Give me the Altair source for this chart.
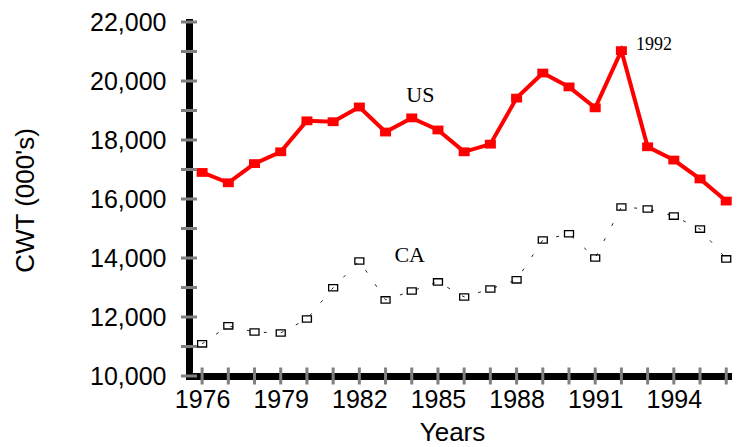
import altair as alt
import pandas as pd

# ---- data ----
years = list(range(1976, 1997))
us = [16900, 16550, 17200, 17600, 18650, 18620, 19120, 18270, 18750, 18340,
      17600, 17860, 19420, 20270, 19800, 19090, 21030, 17770, 17320, 16680, 15930]
ca = [11090, 11700, 11490, 11460, 11930, 12990, 13900, 12580, 12880, 13190,
      12680, 12950, 13260, 14610, 14820, 14000, 15730, 15660, 15420, 14980, 13970]

y_tick_values = list(range(10000, 22001, 1000))
y_label_values = list(range(10000, 22001, 2000))
x_label_values = [1976, 1979, 1982, 1985, 1988, 1991, 1994]

series_labels = ["US", "CA"]
series_label_year = [1984.33, 1983.92]
series_label_value = [19290, 13865]

peak_label = ["1992"]
peak_label_year = [1992.56]
peak_label_value = [21050]

# ---- tables ----
df = pd.DataFrame({"year": years, "us": us, "ca": ca})
xticks = pd.DataFrame({"year": years})
yticks = pd.DataFrame({"value": y_tick_values})
lab1 = pd.DataFrame({"text": series_labels, "year": series_label_year, "value": series_label_value})
lab2 = pd.DataFrame({"text": peak_label, "year": peak_label_year, "value": peak_label_value})

SANS = "Liberation Sans"
SERIF = "Liberation Serif"
x_scale = alt.Scale(domain=[1975.5, 1996.22], nice=False, zero=False)
y_scale = alt.Scale(domain=[10000, 22000], nice=False, zero=False)

x_axis = alt.Axis(
    values=x_label_values, format="d", ticks=False, grid=False,
    domainColor="black", domainWidth=7, domainCap="square",
    labelFont=SANS, labelFontSize=25, labelColor="black",
    labelBaseline="alphabetic", labelPadding=31, labelFlush=False, labelOverlap=False,
    title="Years", titleFont=SANS, titleFontSize=26, titleFontWeight="normal",
    titleColor="black", titleX=263, titleY=64, titleBaseline="alphabetic", titleAlign="center",
)
y_axis = alt.Axis(
    values=y_label_values, format=",.0f", ticks=False, grid=False,
    domainColor="black", domainWidth=7, domainCap="square",
    labelFont=SANS, labelFontSize=25, labelColor="black",
    labelPadding=23, labelFlush=False, labelOverlap=False,
    title="CWT (000's)", titleFont=SANS, titleFontSize=26, titleFontWeight="normal",
    titleColor="black", titleX=-156, titleY=178, titleBaseline="alphabetic",
    titleAlign="center", titleAngle=270,
)


def X(field):
    return alt.X(field, type="quantitative", scale=x_scale, axis=x_axis)


def Y(field):
    return alt.Y(field, type="quantitative", scale=y_scale, axis=y_axis)


base = alt.Chart(df)

ca_line = base.mark_line(color="#222222", strokeWidth=1, strokeDash=[3, 14]).encode(
    x=X("year"), y=Y("ca"),
)
ca_pts = base.mark_point(
    shape="M-1,-0.7H1V0.7H-1Z", size=81, filled=False, stroke="black",
    strokeWidth=1.3, opacity=1,
).encode(x=X("year"), y=Y("ca"))
us_line = base.mark_line(color="#ff0000", strokeWidth=4).encode(
    x=X("year"), y=Y("us"),
)
us_pts = base.mark_point(
    shape="M-1,-0.8H1V0.8H-1Z", size=121, filled=True, fill="#ff0000",
    strokeWidth=0, opacity=1,
).encode(x=X("year"), y=Y("us"))

x_tick_marks = alt.Chart(xticks).mark_tick(
    orient="vertical", size=17, thickness=3, color="#808080", opacity=1
).encode(
    x=X("year"),
    y=alt.YDatum(10000, type="quantitative", scale=y_scale, axis=y_axis),
)
y_tick_marks = alt.Chart(yticks).mark_tick(
    orient="horizontal", size=16, thickness=3, color="#808080", opacity=1
).encode(
    x=alt.XDatum(1975.5, type="quantitative", scale=x_scale, axis=x_axis),
    y=Y("value"),
)

text1 = alt.Chart(lab1).mark_text(
    font=SERIF, fontSize=22, color="black", align="center", baseline="alphabetic"
).encode(x=X("year"), y=Y("value"), text="text:N")
text2 = alt.Chart(lab2).mark_text(
    font=SERIF, fontSize=18, color="black", align="left", baseline="alphabetic"
).encode(x=X("year"), y=Y("value"), text="text:N")

chart = alt.layer(
    ca_line, ca_pts, us_line, us_pts, x_tick_marks, y_tick_marks, text1, text2
).properties(
    width=543, height=354,
    autosize=alt.AutoSizeParams(type="none"),
    padding={"left": 181, "top": 14, "right": 0, "bottom": 71},
    background="white",
).configure_view(stroke=None)

chart.save("out.html", embed_options={"renderer": "svg", "actions": False})
